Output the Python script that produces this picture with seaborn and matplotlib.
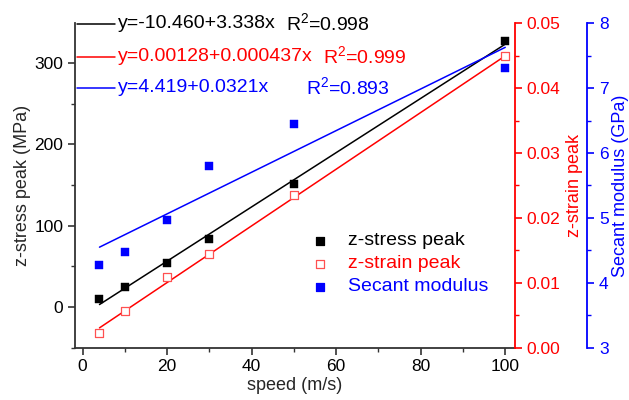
import matplotlib
matplotlib.use("Agg")
import matplotlib.pyplot as plt
import numpy as np
import pandas as pd
import seaborn as sns
from matplotlib.ticker import MultipleLocator

# ---- data ----
speed = [4, 10, 20, 30, 50, 100]
stress_peak = [9.8, 24.6, 53.7, 83.3, 151.3, 327.2]          # MPa
strain_peak = [0.0023, 0.0057, 0.0109, 0.01446, 0.02354, 0.0449]
secant_modulus = [4.27, 4.48, 4.97, 5.80, 6.45, 7.31]          # GPa

series_names = ["z-stress peak", "z-strain peak", "Secant modulus"]
fit_intercepts = [-10.460, 0.00128, 4.419]
fit_slopes = [3.338, 0.000437, 0.0321]
fit_r2 = ["0.998", "0.999", "0.893"]
fit_eq_labels = ["y=-10.460+3.338x", "y=0.00128+0.000437x", "y=4.419+0.0321x"]
fit_x_range = [4, 100]

x_ticks = [0, 20, 40, 60, 80, 100]
stress_ticks = [0, 100, 200, 300]
strain_ticks = [0.00, 0.01, 0.02, 0.03, 0.04, 0.05]
modulus_ticks = [3, 4, 5, 6, 7, 8]

sns.set_theme(style="ticks")
plt.rcParams['font.family'] = ['Liberation Sans', 'DejaVu Sans']
plt.rcParams['mathtext.fontset'] = 'custom'
plt.rcParams['mathtext.rm'] = 'Liberation Sans'

BLACK, RED, BLUE = "#000000", "#FF0000", "#0000FF"

fig = plt.figure(figsize=(6.29, 4.0), dpi=100)
ax = fig.add_axes([0.1192, 0.13125, 0.6995, 0.8105])
ax2 = ax.twinx()
ax3 = ax.twinx()
ax3.spines['right'].set_position(('outward', 52))

df = pd.DataFrame({"speed": speed, "stress": stress_peak,
                   "strain": strain_peak, "modulus": secant_modulus})

fx = np.array(fit_x_range, dtype=float)
fits = pd.DataFrame({
    "x": fx,
    "stress": fit_intercepts[0] + fit_slopes[0] * fx,
    "strain": fit_intercepts[1] + fit_slopes[1] * fx,
    "modulus": fit_intercepts[2] + fit_slopes[2] * fx,
})

sns.lineplot(data=fits, x="x", y="stress", ax=ax, color=BLACK, lw=1.1)
sns.lineplot(data=fits, x="x", y="strain", ax=ax2, color=RED, lw=1.1)
sns.lineplot(data=fits, x="x", y="modulus", ax=ax3, color=BLUE, lw=1.1)

sns.scatterplot(data=df, x="speed", y="stress", ax=ax, marker="s", s=34,
                color=BLACK, edgecolor=BLACK, linewidth=0.3, zorder=5)
sns.scatterplot(data=df, x="speed", y="strain", ax=ax2, marker="s", s=30,
                facecolor="white", edgecolor="#FF5050", linewidth=0.9, zorder=5)
sns.scatterplot(data=df, x="speed", y="modulus", ax=ax3, marker="s", s=34,
                color=BLUE, edgecolor=BLUE, linewidth=0.3, zorder=5)

# ---- axes limits / ticks ----
ax.set_xlim(-1.8, 102.3)
ax.set_ylim(-50, 349)
ax2.set_ylim(0, 0.05)
ax3.set_ylim(3, 8)

ax.set_xticks(x_ticks)
ax.xaxis.set_minor_locator(MultipleLocator(10))
ax.set_yticks(stress_ticks)
ax.yaxis.set_minor_locator(MultipleLocator(50))
ax2.set_yticks(strain_ticks)
ax2.set_yticklabels([f"{v:.2f}" for v in strain_ticks])
ax2.yaxis.set_minor_locator(MultipleLocator(0.005))
ax3.set_yticks(modulus_ticks)
ax3.yaxis.set_minor_locator(MultipleLocator(0.5))

for a in (ax, ax2, ax3):
    a.spines['top'].set_visible(False)
    a.tick_params(which='major', length=5, width=1.2, labelsize=12.5, direction='out')
    a.tick_params(which='minor', length=3, width=1.0, direction='out')
for a in (ax2, ax3):
    a.spines['left'].set_visible(False)
    a.spines['bottom'].set_visible(False)
ax.spines['right'].set_visible(False)
ax2.spines['right'].set_visible(True)

ax.spines['left'].set_color('#333333')
ax.spines['bottom'].set_color('#333333')
ax.spines['left'].set_linewidth(1.3)
ax.spines['bottom'].set_linewidth(1.3)
ax.tick_params(axis='both', which='both', colors='#333333', labelcolor='black')

ax2.spines['right'].set_color(RED)
ax2.spines['right'].set_linewidth(1.3)
ax2.tick_params(axis='y', which='both', colors=RED, labelcolor=RED)
ax3.spines['right'].set_color(BLUE)
ax3.spines['right'].set_linewidth(1.3)
ax3.tick_params(axis='y', which='both', colors=BLUE, labelcolor=BLUE)

ax.set_xlabel("speed (m/s)", fontsize=13, labelpad=2)
ax.set_ylabel("z-stress peak (MPa)", fontsize=13, labelpad=2)
ax2.set_ylabel("z-strain peak", fontsize=13, color=RED, labelpad=4)
ax3.set_ylabel("Secant modulus (GPa)", fontsize=13, color=BLUE, labelpad=2.5)

# ---- fit-equation legend (top-left) ----
colors = [BLACK, RED, BLUE]
row_y = [0.998, 0.897, 0.801]
r2_x = [0.480, 0.564, 0.525]
for i in range(3):
    ax.plot([0.005, 0.092], [row_y[i], row_y[i]], transform=ax.transAxes,
            color=colors[i], lw=1.1, clip_on=False)
    ax.text(0.097, row_y[i], fit_eq_labels[i], transform=ax.transAxes,
            color=colors[i], fontsize=14, ha='left', va='center')
    ax.text(r2_x[i], row_y[i], r"R$^{2}$=" + fit_r2[i], transform=ax.transAxes,
            color=colors[i], fontsize=14, ha='left', va='center')

# ---- marker legend ----
leg_y = [0.329, 0.258, 0.187]
face = [BLACK, "white", BLUE]
edge = [BLACK, "#FF5050", BLUE]
for i in range(3):
    ax.scatter([0.557], [leg_y[i]], transform=ax.transAxes, marker="s", s=30,
               facecolor=face[i], edgecolor=edge[i], linewidth=0.9, zorder=6)
    ax.text(0.620, leg_y[i], series_names[i], transform=ax.transAxes,
            color=colors[i], fontsize=14, ha='left', va='center')

fig.savefig("out.png", dpi=100)
